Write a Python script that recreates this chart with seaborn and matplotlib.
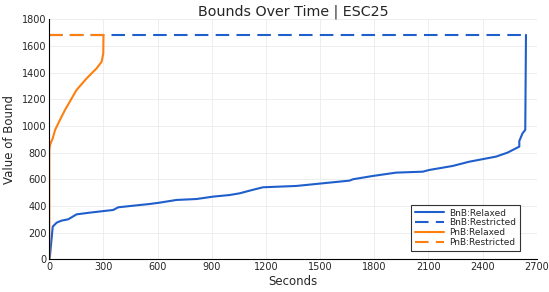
import numpy as np
import pandas as pd
import matplotlib
matplotlib.use("Agg")
import matplotlib.pyplot as plt
import seaborn as sns

# BnB relaxed bound over time
bnb_relaxed_t = [0, 4, 19, 41, 68, 105, 151, 225, 354, 382, 501, 557, 612, 704, 815, 907,
                 999, 1055, 1110, 1183, 1368, 1552, 1663, 1681, 1792, 1921, 2068, 2105,
                 2234, 2326, 2474, 2538, 2603, 2603, 2621, 2636, 2640]
bnb_relaxed_v = [0, 30, 245, 275, 290, 300, 337, 350, 370, 390, 407, 415, 425, 445, 452, 470,
                 482, 495, 515, 540, 550, 575, 590, 600, 625, 650, 657, 670,
                 700, 732, 770, 800, 845, 887, 945, 970, 1683]

# BnB restricted bound (constant)
bnb_restricted_t = [0, 2640]
bnb_restricted_v = [1683, 1683]

# PnB relaxed bound over time
pnb_relaxed_t = [0, 0, 3, 10, 19, 32, 59, 87, 124, 151, 207, 262, 290, 299, 300]
pnb_relaxed_v = [0, 820, 850, 880, 907, 970, 1045, 1120, 1207, 1270, 1357, 1432, 1482, 1545, 1683]

# PnB restricted bound (constant)
pnb_restricted_t = [0, 300]
pnb_restricted_v = [1683, 1683]

blue = "#1f5fcb"
orange = "#ff7f0e"

sns.set_style("whitegrid")
plt.rcParams['font.family'] = ['DejaVu Sans']

fig = plt.figure(figsize=(5.49, 2.92), dpi=100)
ax = fig.add_axes([0.0898, 0.112, 0.888, 0.822])

series = [
    (bnb_relaxed_t, bnb_relaxed_v, "BnB:Relaxed", blue, "-"),
    (bnb_restricted_t, bnb_restricted_v, "BnB:Restricted", blue, (0, (6.5, 3.5))),
    (pnb_relaxed_t, pnb_relaxed_v, "PnB:Relaxed", orange, "-"),
    (pnb_restricted_t, pnb_restricted_v, "PnB:Restricted", orange, (0, (6.5, 3.5))),
]
for t, v, name, col, ls in series:
    df = pd.DataFrame({"Seconds": t, "Value": v})
    sns.lineplot(data=df, x="Seconds", y="Value", ax=ax, sort=False, estimator=None,
                 color=col, linestyle=ls, linewidth=1.5, label=name)

ax.set_xlim(0, 2700)
ax.set_ylim(0, 1800)
ax.set_xticks(np.arange(0, 2701, 300))
ax.set_yticks(np.arange(0, 1801, 200))
ax.tick_params(labelsize=7, direction="in", length=3, width=0.6, color="black", pad=2)
ax.grid(True, color="#ebebeb", linewidth=0.6)
for s in ["top", "right"]:
    ax.spines[s].set_visible(False)
for s in ["left", "bottom"]:
    ax.spines[s].set_color("black")
    ax.spines[s].set_linewidth(0.8)

ax.set_title("Bounds Over Time | ESC25", fontsize=10.3, pad=3)
ax.set_xlabel("Seconds", fontsize=8.5, labelpad=2)
ax.set_ylabel("Value of Bound", fontsize=8.5, labelpad=4)

leg = ax.legend(loc="lower right", bbox_to_anchor=(0.965, 0.035), fontsize=6.5,
                frameon=True, fancybox=False, borderpad=0.4, labelspacing=0.1,
                handlelength=3.2, handletextpad=0.6, borderaxespad=0)
leg.get_frame().set_edgecolor("black")
leg.get_frame().set_linewidth(0.8)

fig.savefig("out.png", dpi=100)
